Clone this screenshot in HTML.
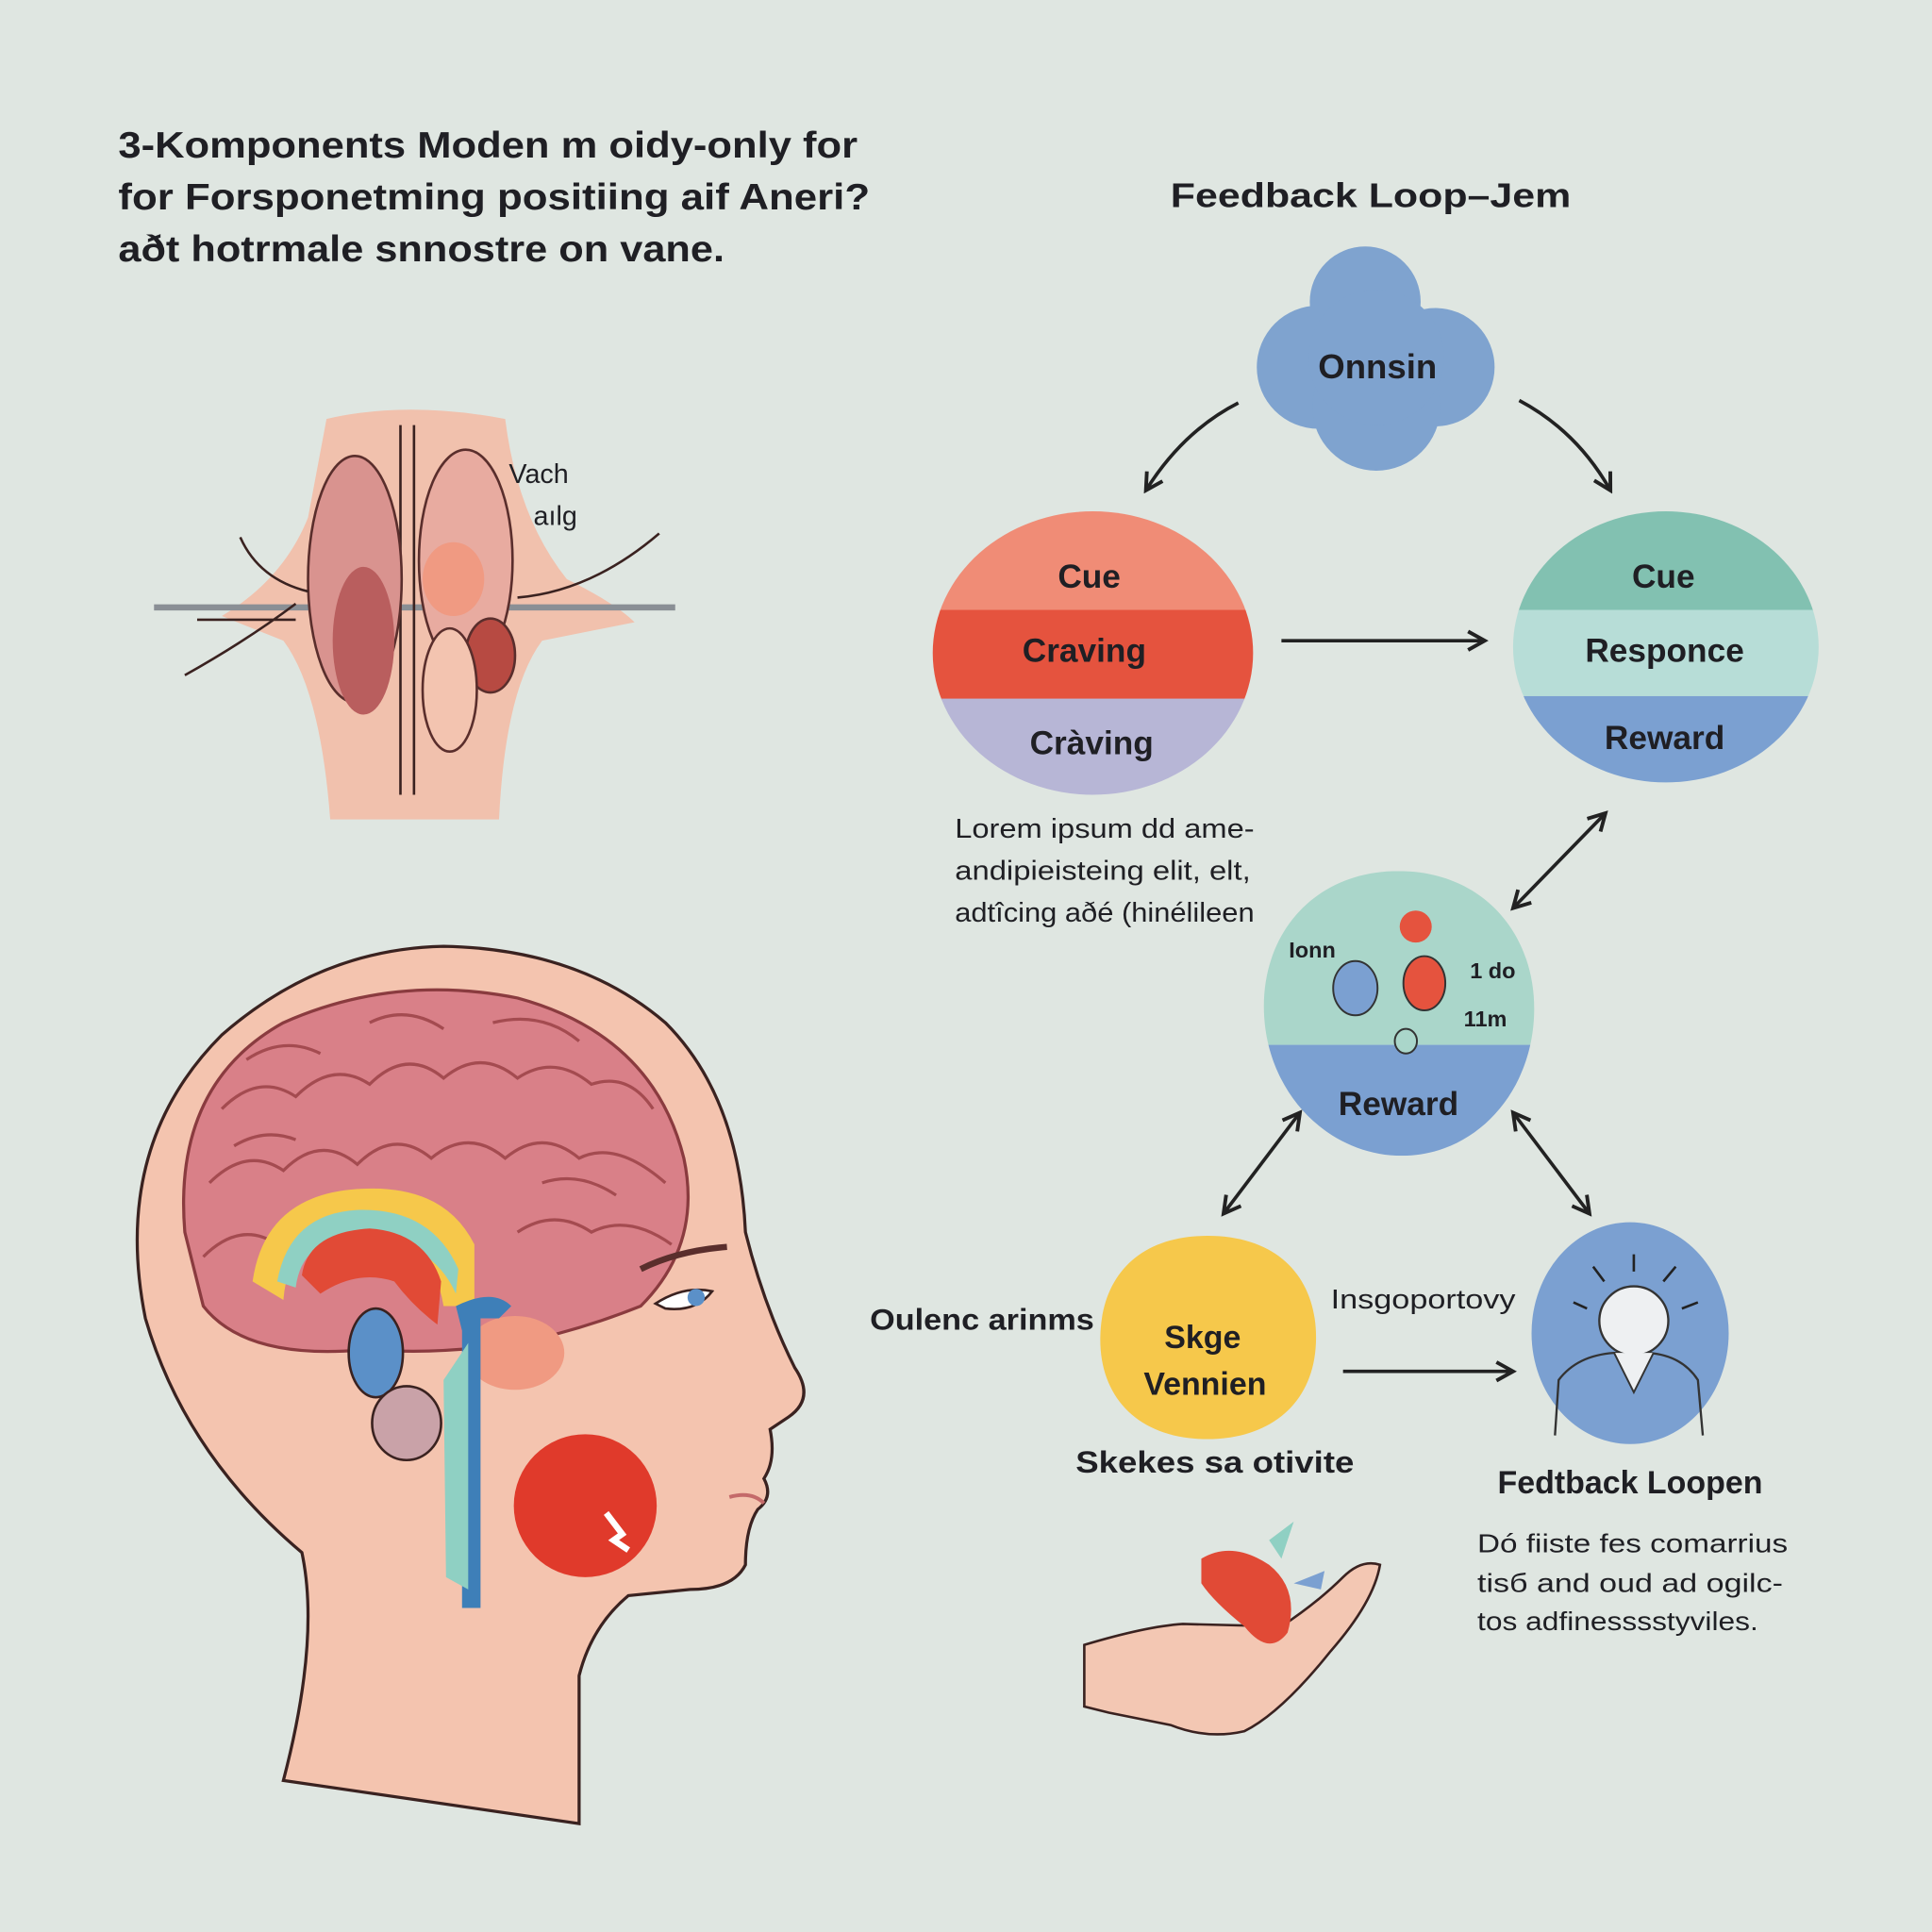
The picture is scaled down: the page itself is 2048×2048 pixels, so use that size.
<!DOCTYPE html>
<html><head><meta charset="utf-8"><style>
html,body{margin:0;padding:0;background:#dfe6e1}
svg{display:block}
text{font-family:"Liberation Sans",sans-serif;fill:#1f1f24}
</style></head><body>
<svg width="2048" height="2048" viewBox="0 0 1568 1568" xmlns="http://www.w3.org/2000/svg">
<defs>
<marker id="ah" viewBox="0 0 12 12" refX="10" refY="6" markerWidth="18" markerHeight="18" markerUnits="userSpaceOnUse" orient="auto-start-reverse">
<path d="M1,1 L10,6 L1,11" fill="none" stroke="#222" stroke-width="2"/></marker>
<clipPath id="c1"><ellipse cx="887" cy="530" rx="130" ry="115"/></clipPath>
<clipPath id="c2"><ellipse cx="1352" cy="525" rx="124" ry="110"/></clipPath>
<clipPath id="c3"><path d="M1135,707 C1205,707 1248,760 1245,825 C1242,890 1195,938 1138,938 C1080,938 1030,890 1026,825 C1022,760 1065,707 1135,707Z"/></clipPath>
</defs>
<rect width="1568" height="1568" fill="#dfe6e1"/>

<!-- Title -->
<g font-size="30" font-weight="bold" fill="#222">
<text x="96" y="128" textLength="600" lengthAdjust="spacingAndGlyphs">3-Komponents Moden  m oidy-only for</text>
<text x="96" y="170" textLength="610" lengthAdjust="spacingAndGlyphs">for  Forsponetming positiing aif Aneri?</text>
<text x="96" y="212" textLength="492" lengthAdjust="spacingAndGlyphs">aðt hotrmale snnostre on vane.</text>
</g>
<text x="950" y="168" font-size="28" font-weight="bold" textLength="325" lengthAdjust="spacingAndGlyphs">Feedback Loop–Jem</text>

<!-- cloud -->
<g fill="#7fa3cf">
<circle cx="1108" cy="245" r="45"/><circle cx="1070" cy="298" r="50"/><circle cx="1165" cy="298" r="48"/>
<circle cx="1117" cy="330" r="52"/><circle cx="1117" cy="290" r="55"/>
</g>
<text x="1118" y="307" font-size="28" font-weight="bold" text-anchor="middle">Onnsin</text>

<g fill="none" stroke="#222" stroke-width="2.8">
<path d="M1005,327 Q960,350 930,398" marker-end="url(#ah)"/>
<path d="M1233,325 Q1280,350 1307,398" marker-end="url(#ah)"/>
<path d="M1040,520 L1205,520" marker-end="url(#ah)"/>
<path d="M1303,660 L1228,737" marker-start="url(#ah)" marker-end="url(#ah)"/>
<path d="M1055,903 L993,985" marker-start="url(#ah)" marker-end="url(#ah)"/>
<path d="M1228,903 L1290,985" marker-start="url(#ah)" marker-end="url(#ah)"/>
<path d="M1090,1113 L1228,1113" marker-end="url(#ah)"/>
</g>

<!-- left circle -->
<g clip-path="url(#c1)">
<rect x="750" y="410" width="280" height="86" fill="#f08c76"/>
<rect x="750" y="495" width="280" height="73" fill="#e5533e"/>
<rect x="750" y="567" width="280" height="90" fill="#b7b6d6"/>
</g>
<g font-size="27" font-weight="bold" text-anchor="middle">
<text x="884" y="477">Cue</text><text x="880" y="537">Craving</text><text x="886" y="612">Cràving</text>
</g>

<!-- right circle -->
<g clip-path="url(#c2)">
<rect x="1220" y="410" width="270" height="86" fill="#82c1b1"/>
<rect x="1220" y="495" width="270" height="70" fill="#b7ddd7"/>
<rect x="1220" y="565" width="270" height="80" fill="#7ba0d1"/>
</g>
<g font-size="27" font-weight="bold" text-anchor="middle">
<text x="1350" y="477">Cue</text><text x="1351" y="537">Responce</text><text x="1351" y="608">Reward</text>
</g>

<g font-size="22" fill="#333">
<text x="775" y="680" textLength="243" lengthAdjust="spacingAndGlyphs">Lorem ipsum dd ame-</text>
<text x="775" y="714" textLength="240" lengthAdjust="spacingAndGlyphs">andipieisteing elit, elt,</text>
<text x="775" y="748" textLength="243" lengthAdjust="spacingAndGlyphs">adtîcing aðé (hinélileen</text>
</g>

<!-- mid circle -->
<g clip-path="url(#c3)">
<rect x="1020" y="700" width="230" height="148" fill="#aad6ca"/>
<rect x="1020" y="848" width="230" height="100" fill="#7ba0d1"/>
</g>
<text x="1135" y="905" font-size="27" font-weight="bold" text-anchor="middle">Reward</text>
<circle cx="1149" cy="752" r="13" fill="#e5533e"/>
<ellipse cx="1156" cy="798" rx="17" ry="22" fill="#e5533e" stroke="#333" stroke-width="1.5"/>
<ellipse cx="1100" cy="802" rx="18" ry="22" fill="#7ba0d1" stroke="#333" stroke-width="1.5"/>
<ellipse cx="1141" cy="845" rx="9" ry="10" fill="#aad6ca" stroke="#333" stroke-width="1.5"/>
<g font-size="18" font-weight="bold"><text x="1046" y="777">Ionn</text><text x="1193" y="794">1 do</text><text x="1188" y="833">11m</text></g>

<!-- yellow -->
<path d="M980,1003 C1040,1003 1070,1040 1068,1090 C1066,1140 1030,1168 980,1168 C925,1168 892,1135 893,1085 C894,1035 925,1003 980,1003Z" fill="#f6c84b"/>
<g font-size="26" font-weight="bold" text-anchor="middle"><text x="976" y="1094">Skge</text><text x="978" y="1132">Vennien</text></g>
<text x="706" y="1079" font-size="24" font-weight="bold" textLength="182" lengthAdjust="spacingAndGlyphs">Oulenc arinms</text>
<text x="1080" y="1062" font-size="22" textLength="150" lengthAdjust="spacingAndGlyphs">Insgoportovy</text>
<text x="873" y="1195" font-size="25" font-weight="bold" textLength="226" lengthAdjust="spacingAndGlyphs">Skekes sa otivite</text>

<!-- person circle -->
<ellipse cx="1323" cy="1082" rx="80" ry="90" fill="#7ba0d1"/>
<path d="M1262,1165 L1265,1120 Q1280,1100 1310,1098 L1338,1098 Q1365,1100 1378,1120 L1382,1165" fill="none" stroke="#333" stroke-width="1.8"/>
<circle cx="1326" cy="1072" r="28" fill="#eef0f2" stroke="#333" stroke-width="1.8"/>
<path d="M1310,1098 L1326,1130 L1342,1098" fill="#eef0f2" stroke="#333" stroke-width="1.5"/>
<g stroke="#222" stroke-width="2"><path d="M1326,1032 L1326,1018M1302,1040 L1293,1028M1350,1040 L1360,1028M1288,1062 L1277,1057M1365,1062 L1378,1057"/></g>
<text x="1323" y="1212" font-size="26" font-weight="bold" text-anchor="middle">Fedtback Loopen</text>
<g font-size="21" fill="#333"><text x="1199" y="1260" textLength="252" lengthAdjust="spacingAndGlyphs">Dó fiiste fes comarrius</text><text x="1199" y="1292" textLength="248" lengthAdjust="spacingAndGlyphs">tisб and oud ad ogilc-</text><text x="1199" y="1323" textLength="228" lengthAdjust="spacingAndGlyphs">tos adfinesssstyviles.</text></g>

<!-- hand -->
<path d="M880,1335 Q930,1320 960,1318 L1040,1320 Q1070,1300 1090,1280 Q1105,1265 1120,1270 Q1115,1300 1080,1340 Q1040,1390 1010,1405 Q980,1412 950,1400 L900,1390 L880,1385Z" fill="#f3c7b3" stroke="#3a2220" stroke-width="2"/>
<path d="M975,1265 Q1000,1250 1030,1270 Q1055,1290 1045,1325 Q1030,1345 1010,1320 Q985,1300 975,1285Z" fill="#e14a36"/>
<path d="M1030,1250 L1050,1235 L1040,1265Z" fill="#8fd0c3"/><path d="M1050,1285 L1075,1275 L1072,1290Z" fill="#7ba0d1"/>

<!-- top brain illustration -->
<path d="M265,340 Q330,325 410,340 Q420,420 460,470 Q500,490 515,505 L440,520 Q410,560 405,665 L268,665 Q260,560 230,520 L180,500 Q230,470 250,420Z" fill="#f1c1ad"/>
<line x1="125" y1="493" x2="548" y2="493" stroke="#8a8f95" stroke-width="5"/>
<path d="M325,345 L325,645 M336,345 L336,645" stroke="#3a2220" stroke-width="2"/>
<ellipse cx="288" cy="470" rx="38" ry="100" fill="#d9938f" stroke="#5a2e2c" stroke-width="2"/>
<ellipse cx="378" cy="455" rx="38" ry="90" fill="#e8aba0" stroke="#5a2e2c" stroke-width="2"/>
<ellipse cx="295" cy="520" rx="25" ry="60" fill="#b95e5e"/>
<ellipse cx="368" cy="470" rx="25" ry="30" fill="#f09a82"/>
<ellipse cx="398" cy="532" rx="20" ry="30" fill="#b74a42" stroke="#5a2e2c" stroke-width="2"/>
<ellipse cx="365" cy="560" rx="22" ry="50" fill="#f3c4b0" stroke="#5a2e2c" stroke-width="2"/>
<g fill="none" stroke="#3a2220" stroke-width="2"><path d="M150,548 Q200,520 240,490 M195,436 Q210,470 250,480 M420,485 Q480,480 535,433 M160,503 L240,503"/></g>
<g font-size="22" fill="#333"><text x="413" y="392">Vach</text><text x="433" y="426">aılg</text></g>

<!-- head -->
<path d="M230,1445 Q260,1330 245,1260 Q150,1180 118,1070 Q90,930 180,840 Q260,770 360,768 Q470,770 540,830 Q600,890 605,1000 Q620,1060 645,1110 Q662,1135 640,1150 L625,1160 Q630,1185 620,1200 Q628,1215 615,1225 Q605,1240 605,1270 Q595,1290 560,1290 L510,1295 Q480,1320 470,1360 L470,1480Z" fill="#f4c4af" stroke="#3a2220" stroke-width="2.5"/>
<path d="M150,1000 Q140,880 230,830 Q320,790 420,810 Q530,840 555,940 Q570,1010 520,1060 Q470,1080 420,1090 Q350,1100 300,1095 Q200,1105 165,1060Z" fill="#d98088" stroke="#8a3b3f" stroke-width="2.5"/>
<g fill="none" stroke="#a44b50" stroke-width="2.5">
<path d="M180,900 Q210,870 240,890 Q270,860 300,880 Q330,850 360,875 Q390,850 420,875 Q450,855 480,880 Q510,870 530,900"/>
<path d="M170,960 Q200,930 230,950 Q260,920 290,945 Q320,915 350,940 Q380,915 410,940 Q440,915 470,940 Q500,925 540,960"/>
<path d="M165,1020 Q195,990 225,1010 Q255,985 285,1005 M420,1000 Q450,980 480,1000 Q510,985 545,1010"/>
<path d="M200,860 Q230,840 260,855 M300,830 Q330,815 360,835 M400,830 Q440,820 470,845 M190,930 Q215,915 240,925 M440,960 Q470,950 500,970"/>
</g>
<path d="M205,1040 Q215,970 290,965 Q360,960 385,1010 L385,1060 L360,1060 Q350,1000 290,995 Q235,995 230,1055Z" fill="#f6c84b"/>
<path d="M225,1040 Q235,985 290,982 Q350,980 372,1030 L370,1050 Q350,1005 290,1003 Q245,1005 240,1045Z" fill="#8fd0c3"/>
<path d="M245,1035 Q250,1000 300,997 Q345,1000 358,1040 L355,1075 Q335,1060 320,1040 Q290,1030 260,1050Z" fill="#e14a36"/>
<ellipse cx="418" cy="1098" rx="40" ry="30" fill="#f09a82"/>
<path d="M370,1060 Q400,1045 415,1060 L405,1070 L390,1070 L390,1305 L375,1305 L375,1080 Z" fill="#3e7fb8"/>
<path d="M360,1120 L380,1090 L380,1290 L362,1280Z" fill="#8fd0c3"/>
<ellipse cx="305" cy="1098" rx="22" ry="36" fill="#5b90c8" stroke="#3a2220" stroke-width="2"/>
<ellipse cx="330" cy="1155" rx="28" ry="30" fill="#c9a2a8" stroke="#3a2220" stroke-width="2"/>
<circle cx="475" cy="1222" r="58" fill="#e03a2b"/>
<path d="M492,1228 L505,1245 L498,1250 L510,1258" stroke="#fff" stroke-width="5" fill="none"/>
<path d="M520,1030 Q550,1015 590,1012" stroke="#5a2e2c" stroke-width="5" fill="none"/>
<path d="M532,1058 Q555,1043 578,1048 Q565,1065 540,1062Z" fill="#fff" stroke="#3a2220" stroke-width="2"/>
<circle cx="565" cy="1053" r="7" fill="#5b90c8"/>
<path d="M592,1215 Q610,1210 620,1220" stroke="#c46a6a" stroke-width="3" fill="none"/>
</svg>
</body></html>
